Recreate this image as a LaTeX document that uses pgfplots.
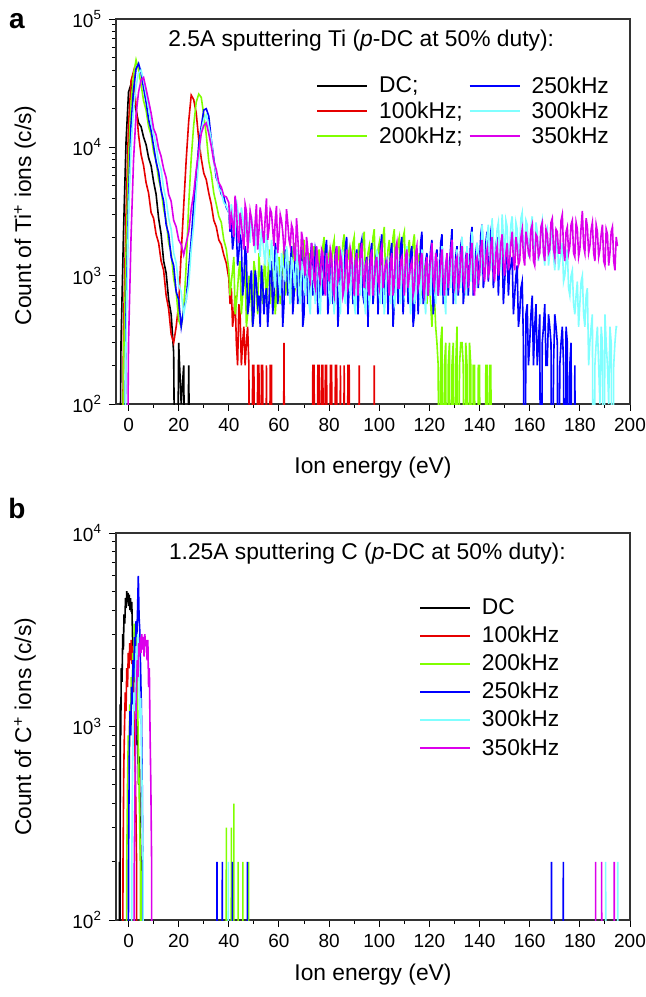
\documentclass[border=0pt]{standalone}
\usepackage{fontspec}
\setmainfont{Liberation Sans}
\usepackage{pgfplots}
\usepackage{pgfplotstable}
\pgfplotsset{compat=1.18}
\definecolor{cR}{RGB}{230,0,0}
\definecolor{cG}{RGB}{128,255,0}
\definecolor{cB}{RGB}{0,0,255}
\definecolor{cC}{RGB}{128,255,255}
\definecolor{cM}{RGB}{220,0,235}

\pgfplotstableread{
x k r g b c m
-4 1 1 1 1 1 1
-3 300 1 1 1 1 1
-2 2200 400 200 1 1 1
-1 11000 3000 1500 500 300 1
0 27000 15000 8000 4000 3000 300
1 31000 33000 22000 15000 10000 2000
2 24000 39000 37000 28000 20000 8000
3 19500 21000 48000 41000 30000 18000
4 15500 12500 40000 45000 38000 27000
5 14500 8800 31000 38000 40000 33500
6 12000 7200 23000 29000 33000 35000
7 10500 5300 19500 22500 26000 28500
8 8300 4400 14500 16500 20500 23000
9 7200 3100 12500 13500 15500 18500
10 5400 2800 9200 10200 12800 14000
11 4300 2100 7800 7700 10300 12500
12 2800 1800 5600 6400 7700 9800
13 2100 1300 4700 4600 6700 8500
14 1300 1100 3300 3800 4800 6800
15 1050 700 2700 2500 3900 5800
16 650 550 1800 2100 2800 4300
17 500 350 1500 1400 2300 3800
18 250 300 950 1200 1500 2700
19 1 400 750 750 1250 2400
20 300 600 450 650 850 1900
21 100 1500 400 400 750 1750
22 200 3500 550 550 500 1450
23 1 8000 1200 650 650 1800
24 200 16000 3600 1150 850 2200
25 1 25500 8200 1900 1600 3300
26 1 23500 15000 3600 2500 4400
27 1 18500 22500 5800 4600 6700
28 1 11500 26000 10500 7800 9300
29 1 8200 24500 14500 13500 12800
30 1 6300 18000 19500 16500 14800
31 1 5600 12500 20000 18000 15500
32 1 4400 7800 17500 14500 12800
33 1 3600 6200 11500 11500 10200
34 1 2700 4400 8200 7700 7800
35 1 2400 3600 5800 6200 6700
36 1 1900 2900 5200 4800 5300
37 1 1750 2600 4300 4500 4900
38 1 1450 1900 4100 3700 4200
39 1 1250 1600 3400 3500 4100
40 1 950 1100 3100 3100 3700
40.5 1 600 700 2200 2500 2300
41 1 800 900 2600 3600 3000
41.5 1 400 1100 1600 3000 2600
42 1 500 1400 2000 2600 2000
42.5 1 700 500 2700 2300 4200
43 1 300 600 2300 3900 3400
43.5 1 200 800 1200 3300 2100
44 1 600 1100 1500 2800 1800
44.5 1 500 1300 2100 2100 3100
45 1 200 500 1800 3400 2600
45.5 1 300 700 700 2900 2000
46 1 400 900 900 2400 1600
46.5 1 200 1200 1700 2000 3600
47 1 300 400 1400 3100 3200
47.5 1 400 500 500 2600 1500
48 1 200 1000 600 2200 2100
48.5 1 1 800 900 1800 3200
49 1 1 600 1100 2900 2800
49.5 1 200 400 400 2400 2200
50 1 200 1300 500 2000 1700
50.5 1 1 1100 1100 1500 2600
51 1 1 700 900 2600 3600
51.5 1 200 500 600 2100 1600
52 1 200 1500 700 1700 2200
52.5 1 1 1000 400 1400 3400
53 1 200 800 1200 2300 2900
53.5 1 200 600 900 1900 2100
54 1 1 1100 500 1500 1800
54.5 1 1 1400 700 1200 2800
55 1 200 600 800 2100 4000
55.5 1 1 900 400 1700 1900
56 1 1 1600 600 1300 2300
56.5 1 200 600 1100 1100 3300
57 1 200 800 1300 1900 3100
57.5 1 1 1100 500 1500 2300
58 1 1 1200 700 1000 1700
58.5 1 1 500 1800 800 2700
59 1 1 700 1500 1600 3500
59.5 1 1 1000 600 1300 1500
60 1 1 1400 800 900 2000
60.5 1 1 600 1000 700 3000
61 1 1 900 1200 1500 2700
61.5 1 1 1300 400 1200 2200
62 1 300 1700 600 1100 1600
62.5 1 1 700 1600 900 1800
63 1 1 800 1400 1700 3300
63.5 1 1 1100 700 1400 2600
64 1 1 1300 900 800 1900
64.5 1 1 600 1200 600 1700
65 1 1 1000 1700 1400 2500
65.5 1 1 1500 500 1200 2300
66 1 1 1800 700 1000 1500
66.5 1 1 800 1500 800 1300
67 1 1 900 1300 1600 2800
67.5 1 1 1200 600 1300 2000
68 1 1 1400 900 700 1300
68.5 1 1 700 1100 600 1100
69 1 1 1100 1600 1300 2200
69.5 1 1 1600 400 1100 1900
70 1 1 1900 500 900 1200
70.5 1 1 900 1400 700 1000
71 1 1 1000 1200 1500 2000
71.5 1 1 1300 600 1300 1600
72 1 1 1500 800 600 1000
72.5 1 1 800 1300 500 900
73 1 1 1100 1800 1200 1800
73.5 1 200 1400 700 1000 1500
74 1 200 1700 900 800 900
74.5 1 1 800 1600 600 800
75 1 1 900 1400 1400 1700
75.5 1 200 1300 500 1200 1300
76 1 200 1600 600 600 1000
76.5 1 1 1000 1200 500 900
77 1 200 1200 1500 1100 1600
77.5 1 200 1700 700 1000 1500
78 1 1 2000 1000 900 800
78.5 1 200 900 1600 700 700
79 1 200 1000 1900 1500 1500
79.5 1 1 1300 500 1300 1200
80 1 1 1500 700 700 900
80.5 1 200 1000 1100 600 1600
81 1 200 1300 1300 1200 1400
81.5 1 1 1700 600 1000 800
82 1 1 1900 900 500 700
82.5 1 200 900 1500 700 1300
83 1 200 1000 1700 1300 1700
83.5 1 1 1400 400 1100 900
84 1 1 1700 600 800 1000
84.5 1 200 1000 1200 500 1500
85 1 1 1200 1400 1600 1300
85.5 1 1 1800 700 1300 700
86 1 200 2100 1000 700 800
86.5 1 1 1000 1700 600 1200
87 1 1 1100 2000 1100 1600
87.5 1 200 1400 500 1000 800
88 1 200 1600 800 900 900
88.5 1 1 1100 1100 700 1600
89 1 1 1300 1300 1400 1400
89.5 1 1 1800 600 1200 900
90 1 1 2000 700 600 700
90.5 1 1 900 1300 500 1300
91 1 1 1000 1600 1200 1500
91.5 1 1 1500 500 1000 700
92 1 200 1800 900 800 1000
92.5 1 1 1000 1700 700 1500
93 1 1 1200 1900 1500 1800
93.5 1 1 1900 700 1300 1000
94 1 1 2200 600 700 800
94.5 1 1 1000 1200 500 1200
95 1 1 1100 1400 1000 1300
95.5 1 1 1500 400 900 800
96 1 1 1700 1100 600 700
96.5 1 1 1200 1500 700 1400
97 1 1 1400 1800 1300 1600
97.5 1 1 2000 600 1100 700
98 1 200 2300 800 900 900
98.5 1 1 1000 1300 700 1200
99 1 1 1200 1500 1600 1400
99.5 1 1 1600 500 1300 900
100 1 1 1800 900 700 800
100.5 1 1 1100 1700 600 1500
101 1 1 1300 2100 1200 1700
101.5 1 1 2000 600 1000 800
102 1 1 2400 700 500 1000
102.5 1 1 1000 1200 700 1200
103 1 1 1100 1400 1400 1300
103.5 1 1 1600 500 1200 900
104 1 1 1900 1000 800 700
104.5 1 1 1200 1500 600 1300
105 1 1 1400 1800 1100 1500
105.5 1 1 2000 400 900 700
106 1 1 2300 600 600 900
106.5 1 1 1000 1300 700 1600
107 1 1 1200 1500 1500 1800
107.5 1 1 1800 600 1200 800
108 1 1 2000 900 900 800
108.5 1 1 1200 1700 600 1300
109 1 1 1500 2000 1300 1400
109.5 1 1 2000 500 1100 900
110 1 1 2200 800 700 700
110.5 1 1 1000 1200 800 1400
111 1 1 1100 1400 1700 1600
111.5 1 1 1600 600 1300 800
112 1 1 1900 1000 800 1000
112.5 1 1 1100 1500 500 1200
113 1 1 1300 1700 1200 1300
113.5 1 1 1800 400 1000 700
114 1 1 2100 500 600 800
114.5 1 1 1000 1100 700 1500
115 1 1 1000 1300 1400 1700
115.5 1 1 1300 500 1200 800
116 1 1 1500 900 900 900
116.5 1 1 900 1800 600 1300
117 1 1 700 2200 1600 1500
117.5 1 1 1000 600 1300 800
118 1 1 1200 800 700 700
118.5 1 1 800 1300 500 1200
119 1 1 600 1500 1300 1400
119.5 1 1 900 700 1100 700
120 1 1 900 1100 1000 1000
120.5 1 1 600 1600 700 1400
121 1 1 400 1900 1800 1800
121.5 1 1 700 500 1200 900
122 1 1 700 700 800 800
122.5 1 1 400 1400 600 1500
123 1 1 300 1600 1400 1300
123.5 1 1 200 700 1100 700
124 1 1 1 1000 900 900
124.5 1 1 300 1800 700 1300
125 1 1 400 2100 1700 1600
125.5 1 1 1 600 1300 900
126 1 1 200 800 700 700
126.5 1 1 300 1200 500 1200
127 1 1 1 1400 1500 1500
127.5 1 1 200 700 1200 800
128 1 1 300 1200 1000 1000
128.5 1 1 1 1700 800 1500
129 1 1 200 2300 1900 1900
129.5 1 1 300 600 1400 900
130 1 1 1 900 800 800
130.5 1 1 200 1400 600 1300
131 1 1 400 1700 1600 1400
131.5 1 1 1 700 1300 800
132 1 1 200 1000 1100 900
132.5 1 1 300 1700 800 1400
133 1 1 300 2000 2000 1700
133.5 1 1 200 600 1400 900
134 1 1 1 800 900 800
134.5 1 1 300 1400 700 1300
135 1 1 200 1600 1700 1500
135.5 1 1 1 700 1300 800
136 1 1 300 1200 1200 1100
136.5 1 1 200 2000 900 1500
137 1 1 1 2400 2200 1800
137.5 1 1 200 700 1600 900
138 1 1 200 900 1000 700
138.5 1 1 1 1500 800 1300
139 1 1 1 1800 1800 1400
139.5 1 1 200 800 1500 900
140 1 1 200 1300 1300 1000
140.5 1 1 1 2100 1000 1600
141 1 1 1 2500 2500 1900
141.5 1 1 1 800 1900 1100
142 1 1 1 1000 1100 900
142.5 1 1 200 1800 1200 1400
143 1 1 200 2200 2000 1600
143.5 1 1 1 900 2500 1000
144 1 1 200 1400 1400 1100
144.5 1 1 200 2200 1100 1700
145 1 1 1 2600 2800 2000
145.5 1 1 1 800 1900 1100
146 1 1 1 1100 1200 900
146.5 1 1 1 1700 1500 1500
147 1 1 1 2000 2300 1700
147.5 1 1 1 700 2600 1000
148 1 1 1 1300 1500 1200
148.5 1 1 1 1500 1100 1800
149 1 1 1 1800 3000 2100
149.5 1 1 1 600 2000 1200
150 1 1 1 900 1300 1000
150.5 1 1 1 1300 2700 1500
151 1 1 1 1600 2400 1800
151.5 1 1 1 700 1200 1100
152 1 1 1 1100 1600 1300
152.5 1 1 1 1200 2500 1800
153 1 1 1 1400 2900 2200
153.5 1 1 1 500 1700 1300
154 1 1 1 700 1400 1100
154.5 1 1 1 1000 2600 2000
155 1 1 1 1200 2300 1700
155.5 1 1 1 400 1300 1200
156 1 1 1 500 1700 1300
156.5 1 1 1 800 2800 2000
157 1 1 1 900 3100 2300
157.5 1 1 1 300 1600 1400
158 1 1 1 1 1500 1200
158.5 1 1 1 500 2700 2200
159 1 1 1 600 2500 1900
159.5 1 1 1 200 1400 1500
160 1 1 1 300 1800 1400
160.5 1 1 1 500 2400 2300
161 1 1 1 700 2900 2500
161.5 1 1 1 200 1600 1300
162 1 1 1 400 1400 1200
162.5 1 1 1 600 2600 2100
163 1 1 1 200 2200 2000
163.5 1 1 1 300 1300 1400
164 1 1 1 500 1600 1500
164.5 1 1 1 1 2400 2400
165 1 1 1 300 2700 2600
165.5 1 1 1 400 1500 1500
166 1 1 1 600 1200 1300
166.5 1 1 1 200 2100 2300
167 1 1 1 200 2300 2100
167.5 1 1 1 500 1200 1500
168 1 1 1 400 1500 1600
168.5 1 1 1 300 2000 2600
169 1 1 1 1 2600 2800
169.5 1 1 1 200 1400 1600
170 1 1 1 500 1100 1400
170.5 1 1 1 400 1700 2300
171 1 1 1 300 2000 2200
171.5 1 1 1 1 1100 1500
172 1 1 1 200 1300 1500
172.5 1 1 1 300 1500 2700
173 1 1 1 400 1800 3000
173.5 1 1 1 200 900 1600
174 1 1 1 1 1000 1300
174.5 1 1 1 400 1300 2200
175 1 1 1 300 1600 2400
175.5 1 1 1 1 800 1500
176 1 1 1 200 700 1700
176.5 1 1 1 300 1000 2500
177 1 1 1 1 1100 2700
177.5 1 1 1 1 600 1500
178 1 1 1 200 500 1400
178.5 1 1 1 1 700 2600
179 1 1 1 1 900 2300
179.5 1 1 1 1 400 1400
180 1 1 1 1 600 1600
180.5 1 1 1 1 900 2400
181 1 1 1 1 1000 3200
181.5 1 1 1 1 500 1700
182 1 1 1 1 400 1500
182.5 1 1 1 1 700 2800
183 1 1 1 1 800 2400
183.5 1 1 1 1 200 1500
184 1 1 1 1 300 1700
184.5 1 1 1 1 400 2300
185 1 1 1 1 500 2600
185.5 1 1 1 1 1 1500
186 1 1 1 1 200 1300
186.5 1 1 1 1 300 2500
187 1 1 1 1 400 2200
187.5 1 1 1 1 200 1400
188 1 1 1 1 100 1600
188.5 1 1 1 1 400 2100
189 1 1 1 1 300 2500
189.5 1 1 1 1 1 1300
190 1 1 1 1 500 1200
190.5 1 1 1 1 300 2300
191 1 1 1 1 200 2100
191.5 1 1 1 1 100 1200
192 1 1 1 1 400 1500
192.5 1 1 1 1 300 2200
193 1 1 1 1 1 2400
193.5 1 1 1 1 200 1300
194 1 1 1 1 300 1100
194.5 1 1 1 1 400 2000
195 1 1 1 1 400 1700
}\tiTable

\begin{document}
\begin{tikzpicture}
\path[use as bounding box] (0pt,0pt) rectangle (323pt,-498.5pt);
\node[font=\fontsize{14}{16}\bfseries\selectfont] at (8.5pt,-10.5pt) {a};
\node[font=\fontsize{14}{16}\bfseries\selectfont] at (8.5pt,-254pt) {b};

\begin{axis}[
  at={(58pt,-9.5pt)}, anchor=north west,
  scale only axis, width=257pt, height=192.5pt,
  xmin=-5, xmax=200, ymode=log, ymin=100, ymax=100000,
  tick align=outside, tick pos=left,
  xtick={0,20,40,60,80,100,120,140,160,180,200},
  minor xtick={10,30,50,70,90,110,130,150,170,190},
  ytick={100,1000,10000,100000},
  yticklabels={{10\textsuperscript{2}},{10\textsuperscript{3}},{10\textsuperscript{4}},{10\textsuperscript{5}}},
  minor ytick={200,300,400,500,600,700,800,900,2000,3000,4000,5000,6000,7000,8000,9000,20000,30000,40000,50000,60000,70000,80000,90000},
  major tick length=3.5pt, minor tick length=2pt,
  every tick/.style={black, line width=0.5pt},
  axis line style={black!80, line width=0.7pt},
  xticklabel style={font=\fontsize{9.5}{11}\selectfont, /pgf/number format/assume math mode=true},
  yticklabel style={font=\fontsize{9.5}{11}\selectfont},
  xlabel={Ion energy (eV)},
  ylabel={Count of Ti\textsuperscript{+} ions (c/s)},
  xlabel style={font=\fontsize{11.4}{13}\selectfont, at={(axis description cs:0.5,-0.164)}, anchor=center},
  ylabel style={font=\fontsize{11.4}{13}\selectfont, at={(axis description cs:-0.177,0.49)}, anchor=center},
  legend image code/.code={\draw[#1] (0pt,0pt) -- (25pt,0pt);},
  legend columns=2,
  legend cell align=left,
  legend style={at={(axis description cs:0.389,0.862)}, anchor=north west,
    draw=white, fill=white, inner sep=0pt,
    font=\fontsize{11.4}{13}\selectfont, row sep=-1.25pt,
    /tikz/every odd column/.style={column sep=3.5pt},
    /tikz/every even column/.style={column sep=1pt}},
]
\addplot[black, line width=0.8pt, forget plot] table[x=x,y=k]{\tiTable};
\addplot[cR, line width=0.8pt, forget plot] table[x=x,y=r]{\tiTable};
\addplot[cG, line width=0.8pt, forget plot] table[x=x,y=g]{\tiTable};
\addplot[cB, line width=0.8pt, forget plot] table[x=x,y=b]{\tiTable};
\addplot[cC, line width=0.8pt, forget plot] table[x=x,y=c]{\tiTable};
\addplot[cM, line width=0.8pt, forget plot] table[x=x,y=m]{\tiTable};
\addlegendimage{draw=black, line width=0.9pt}\addlegendentry{DC;}
\addlegendimage{draw=cB, line width=0.9pt}\addlegendentry{250kHz}
\addlegendimage{draw=cR, line width=0.9pt}\addlegendentry{100kHz;}
\addlegendimage{draw=cC, line width=0.9pt}\addlegendentry{300kHz}
\addlegendimage{draw=cG, line width=0.9pt}\addlegendentry{200kHz;}
\addlegendimage{draw=cM, line width=0.9pt}\addlegendentry{350kHz}
\node[font=\fontsize{11.4}{13}\selectfont] at (axis description cs:0.477,0.943) {2.5A sputtering Ti (\textit{p}-DC at 50\% duty):};
\end{axis}

\begin{axis}[
  at={(58pt,-266.5pt)}, anchor=north west,
  scale only axis, width=257pt, height=193.5pt,
  xmin=-5, xmax=200, ymode=log, ymin=100, ymax=10000,
  tick align=outside, tick pos=left,
  xtick={0,20,40,60,80,100,120,140,160,180,200},
  minor xtick={10,30,50,70,90,110,130,150,170,190},
  ytick={100,1000,10000},
  yticklabels={{10\textsuperscript{2}},{10\textsuperscript{3}},{10\textsuperscript{4}}},
  minor ytick={200,300,400,500,600,700,800,900,2000,3000,4000,5000,6000,7000,8000,9000},
  major tick length=3.5pt, minor tick length=2pt,
  every tick/.style={black, line width=0.5pt},
  axis line style={black!80, line width=0.7pt},
  xticklabel style={font=\fontsize{9.5}{11}\selectfont, /pgf/number format/assume math mode=true},
  yticklabel style={font=\fontsize{9.5}{11}\selectfont},
  xlabel={Ion energy (eV)},
  ylabel={Count of C\textsuperscript{+} ions (c/s)},
  xlabel style={font=\fontsize{11.4}{13}\selectfont, at={(axis description cs:0.5,-0.142)}, anchor=center},
  ylabel style={font=\fontsize{11.4}{13}\selectfont, at={(axis description cs:-0.177,0.499)}, anchor=center},
  legend image code/.code={\draw[#1] (0pt,0pt) -- (25pt,0pt);},
  legend columns=1,
  legend cell align=left,
  legend style={at={(axis description cs:0.589,0.842)}, anchor=north west,
    draw=white, fill=white, inner sep=0pt,
    font=\fontsize{11.4}{13}\selectfont, row sep=0.3pt,
    /tikz/every odd column/.style={column sep=3.5pt}},
]
\addplot[black, line width=0.8pt, forget plot] coordinates {(-4,1) (-3.6,200) (-3.45,1) (-3.3,1300) (-3.1,900) (-2.9,2000) (-2.6,1700) (-2.3,3000) (-2.05,2500) (-1.8,3800) (-1.5,3400) (-1.2,4600) (-0.95,4100) (-0.7,5000) (-0.45,4400) (-0.2,4900) (0.05,4200) (0.3,4800) (0.55,4000) (0.8,4600) (1.05,3900) (1.3,4400) (1.6,2900) (1.9,2300) (2.2,1700) (2.5,2100) (2.8,1200) (3.1,1500) (3.4,800) (3.7,1000) (4,500) (4.3,700) (4.6,300) (4.9,200) (5.1,1) (5.4,200) (5.6,1) (6,1)};
\addplot[cR, line width=0.8pt, forget plot] coordinates {(-2.6,1) (-2.2,200) (-1.9,600) (-1.6,1000) (-1.3,1500) (-1,1200) (-0.7,2000) (-0.4,1600) (-0.1,2400) (0.2,2000) (0.5,2700) (0.8,2200) (1.1,2800) (1.4,2100) (1.7,2600) (2,1700) (2.3,1200) (2.6,700) (2.9,400) (3.2,200) (3.4,1) (4,1)};
\addplot[cG, line width=0.8pt, forget plot] coordinates {(-1,1) (-0.7,200) (-0.4,500) (-0.1,900) (0.2,700) (0.5,1300) (0.8,1000) (1.1,1800) (1.4,1300) (1.7,2400) (2,2000) (2.3,3400) (2.6,2600) (2.9,3100) (3.2,2200) (3.5,1500) (3.8,1000) (4.1,600) (4.4,350) (4.7,200) (5,1) (5.5,200) (5.7,1) (38.9,1) (39,300) (39.1,1) (40.9,1) (41,300) (41.1,1) (41.9,1) (42,400) (42.1,1) (43.6,1) (43.7,200) (43.8,1) (45.5,1) (45.6,200) (45.7,1) (47.8,1) (47.9,200) (48,1)};
\addplot[cB, line width=0.8pt, forget plot] coordinates {(-0.3,1) (0,200) (0.3,700) (0.6,1200) (0.9,900) (1.2,1600) (1.5,1300) (1.8,2200) (2.1,1800) (2.4,2900) (2.7,2400) (3,3500) (3.3,2900) (3.6,4000) (3.9,6000) (4.2,3700) (4.5,3100) (4.8,2000) (5.1,1300) (5.4,600) (5.7,200) (6,1) (35.2,1) (35.3,200) (35.4,1) (37.3,1) (37.4,200) (37.5,1) (41.3,1) (41.4,200) (41.5,1) (47.3,1) (47.4,200) (47.5,1) (168.6,1) (168.7,200) (168.8,1) (173.3,1) (173.4,200) (173.5,1)};
\addplot[cC, line width=0.8pt, forget plot] coordinates {(1,1) (1.3,200) (1.6,600) (1.9,1000) (2.2,1500) (2.5,1200) (2.8,2000) (3.1,2600) (3.4,2100) (3.7,3000) (4,2500) (4.3,1400) (4.6,1100) (4.9,1400) (5.2,700) (5.5,400) (5.8,200) (6.1,1) (39.7,1) (39.8,200) (39.9,1) (190.2,1) (190.3,200) (190.4,1) (195,1) (195.1,200) (195.2,1)};
\addplot[cM, line width=0.8pt, forget plot] coordinates {(2,1) (2.3,200) (2.6,500) (2.9,1000) (3.2,1600) (3.5,2200) (3.8,1800) (4.1,2700) (4.4,2300) (4.7,2900) (5,2400) (5.3,3000) (5.6,2500) (5.9,2900) (6.2,2300) (6.5,3000) (6.8,2600) (7.1,2800) (7.4,2200) (7.7,2800) (8,1600) (8.3,2000) (8.6,900) (8.9,500) (9.2,200) (9.5,1) (186.2,1) (186.3,200) (186.4,1) (188.6,1) (188.7,200) (188.8,1) (193.6,1) (193.7,200) (193.8,1)};
\addlegendimage{draw=black, line width=0.9pt}\addlegendentry{DC}
\addlegendimage{draw=cR, line width=0.9pt}\addlegendentry{100kHz}
\addlegendimage{draw=cG, line width=0.9pt}\addlegendentry{200kHz}
\addlegendimage{draw=cB, line width=0.9pt}\addlegendentry{250kHz}
\addlegendimage{draw=cC, line width=0.9pt}\addlegendentry{300kHz}
\addlegendimage{draw=cM, line width=0.9pt}\addlegendentry{350kHz}
\node[font=\fontsize{11.4}{13}\selectfont] at (axis description cs:0.489,0.948) {1.25A sputtering C (\textit{p}-DC at 50\% duty):};
\end{axis}
\end{tikzpicture}
\end{document}
